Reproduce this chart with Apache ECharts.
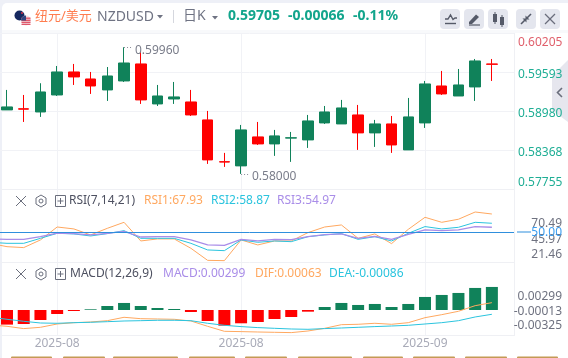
<!DOCTYPE html>
<html>
<head>
<meta charset="utf-8">
<style>
html,body{margin:0;padding:0;width:568px;height:358px;overflow:hidden;background:#eef0f7}
#card{position:absolute;left:2px;top:3px;width:566px;height:355px;background:#fff;border-radius:5px 0 0 0}
#strip{position:absolute;left:2px;top:30px;width:566px;height:3px;background:#f8f9fb}
#tab{position:absolute;left:552px;top:60px;width:16px;height:62px;background:#e6e6ee;clip-path:polygon(100% 0,0 16px,0 50px,100% 100%)}
#chart{position:absolute;left:-60px;top:0;width:628px;height:358px}
</style>
<script src="https://cdn.jsdelivr.net/npm/echarts@6/dist/echarts.min.js"></script>
</head>
<body>
<div id="card"></div><div id="strip"></div><div id="tab"></div>
<div id="chart"></div>
<script>
// one hidden day before the first visible candle, one blank slot after the last
const categories = ['2025-08','2025-08','2025-08','2025-08','2025-08','2025-08','2025-08','2025-08','2025-08','2025-08','2025-08','2025-08','2025-08','2025-08','2025-08','2025-08','2025-08','2025-08','2025-08','2025-08','2025-08','2025-08','2025-08','2025-08','2025-08','2025-08','2025-09','2025-09','2025-09','2025-09','2025-09','2025-09'];
const labelledDays = [4, 15, 26];
const blankCandle = ['-','-','-','-'];
// open, close, low, high
const candles = [blankCandle,
 [.58997,.59044,.58997,.59311],[.59015,.59009,.58808,.59232],[.58965,.59279,.58887,.59416],[.59232,.59593,.59216,.59687],
 [.59593,.59515,.59389,.59719],[.59483,.59373,.59248,.59593],[.59311,.5953,.59138,.59671],[.59452,.59734,.59436,.59981],
 [.59719,.59154,.59091,.59923],[.59091,.59216,.59059,.59389],[.59169,.59201,.59091,.59436],[.59122,.58918,.58902,.59311],
 [.5884,.58212,.58149,.58981],[.58184,.58178,.58102,.58322],[.58118,.58683,.57992,.58761],[.58573,.58463,.58447,.58808],
 [.58463,.58589,.58275,.58683],[.58554,.5856,.58181,.58651],[.58526,.58824,.584,.58918],[.58793,.58965,.58777,.59059],
 [.58777,.59028,.58777,.59154],[.58918,.58636,.58369,.59075],[.58636,.58777,.58416,.5884],[.58777,.58447,.58322,.58902],
 [.58369,.58887,.58369,.59185],[.58793,.59405,.58714,.59452],[.59373,.59248,.59232,.59609],[.59216,.59389,.59216,.5964],
 [.59358,.59766,.59138,.59797],[.59719,.59713,.59452,.59797], blankCandle];
const priceTicks = [0.57755,0.58368,0.58980,0.59593,0.60205];
const rsi1 = [39.2,35.9,35.0,42.5,55.2,53.3,47.4,53.9,59.8,41.5,43.5,43.5,34.3,22.5,22.2,42.5,37.6,41.5,41.5,49.7,55.2,57.2,44.1,48.4,38.9,52.9,64.7,59.8,62.8,69.9,67.93,'-'];
const rsi2 = [40.2,39.2,39.2,44.1,49,48.4,46.4,48.7,51.6,44.1,44.1,44.1,39.2,32.7,32,42.5,40.2,41.5,40.8,45.7,47.4,48.7,43.1,45.7,41.5,49,55.6,53.3,54.9,59.8,58.87,'-'];
const rsi3 = [43.5,43.1,43.1,45.7,49.3,48.7,47.4,49,51,45.4,45.7,45.7,42.5,37.6,37.2,43.1,41.5,43.1,42.8,45.7,47.7,48.4,44.1,46.1,43.1,48,52.3,51.6,52.3,55.6,54.97,'-'];
const macdBars = [-.0019,-.0019,-.00182,-.0013,-.00052,-.00013,.00009,.00052,.00091,.00052,.00026,.00013,-.00026,-.00143,-.00204,-.00173,-.00156,-.00117,-.00091,-.00022,.00039,.00091,.00065,.00078,.00039,.00078,.00169,.00195,.00221,.00286,.00299,'-'];
const dif = [-.00195,-.00212,-.00242,-.00225,-.00182,-.00165,-.00156,-.00139,-.00095,-.00113,-.00117,-.00121,-.00143,-.00212,-.00277,-.00281,-.00286,-.0029,-.00294,-.00273,-.00238,-.00191,-.00186,-.00173,-.00186,-.00165,-.001,-.00061,-.00017,.00056,.00095,'-'];
const dea = [-.00095,-.00121,-.00147,-.00169,-.00173,-.00165,-.0016,-.00152,-.00143,-.00139,-.00134,-.00134,-.00139,-.00173,-.00199,-.00216,-.00229,-.00238,-.00247,-.00251,-.00242,-.00234,-.00225,-.00216,-.00208,-.00199,-.00182,-.00165,-.00139,-.00091,-.00056,'-'];
const rsiTicks = [['70.49',223.5,'#6f7280'],['45.97',240,'#6f7280'],['21.46',254.5,'#6f7280'],['50.00',233,'#3a9df0']];
const macdTicks = [['0.00299',296.7],['-0.00013',312],['-0.00325',326]];

const UP='#10825a', DOWN='#ff0000', ORANGE='#ffa860', CYAN='#2bc4de', PURPLE='#a98de8', LINE='#f1f2f6';
const FONT='"Noto Sans","Noto Sans CJK SC",sans-serif';
const SHIFT=60; // the canvas starts left of the window so the plot can bleed off its left edge
const gridLeft=SHIFT-18.08, gridWidth=535.04;
const isMajor=i=>labelledDays.includes(i);

function xAxis(gridIndex, showLabel){
  return {type:'category',gridIndex,data:categories,boundaryGap:true,
    axisLine:{show:true,onZero:false,lineStyle:{color:'#eff0f4',width:1}},
    axisTick:{show:false},
    axisLabel:{show:showLabel,interval:(i)=>isMajor(i),color:'#a9abb8',fontSize:12,fontFamily:FONT,margin:3,hideOverlap:false},
    splitLine:{show:true,alignWithLabel:true,interval:(i)=>isMajor(i),lineStyle:{color:LINE,width:1}}};
}
function txt(x,y,text,fill,size){
  return {type:'text',z:20,silent:true,style:{x,y,text,fill,font:`${size}px ${FONT}`,align:'left',verticalAlign:'middle'}};
}
function ln(x1,y1,x2,y2,stroke,w){return {type:'line',z:20,silent:true,shape:{x1,y1,x2,y2},style:{stroke,lineWidth:w||1}};}
function controls(y){
  const c='#6a6e7c';
  return [ln(16,y-5,26,y+5,c),ln(26,y-5,16,y+5,c),
    {type:'polygon',z:20,silent:true,shape:{points:[[41,y-6],[46,y-3],[46,y+3],[41,y+6],[36,y+3],[36,y-3]]},style:{fill:'none',stroke:c,lineWidth:1}},
    {type:'circle',z:20,silent:true,shape:{cx:41,cy:y,r:2},style:{fill:'none',stroke:c,lineWidth:1}},
    {type:'rect',z:20,silent:true,shape:{x:55.5,y:y-5.5,width:10,height:11},style:{fill:'none',stroke:c,lineWidth:1}},
    ln(57.5,y,63.5,y,c),ln(60.5,y-3,60.5,y+3,c)];
}
const iconBox=x=>({type:'rect',z:20,silent:true,shape:{x,y:9,width:20,height:20,r:4},style:{fill:'#e4e6ee'}});
const G='#555a68';
const stripes=[[16.5,1.4],[18.6,1.4],[20.7,1.4],[22.8,1.2]];
const segments=[[11,52],[63,105],[113,178],[189,235],[245,287],[298,352],[363,403],[413,455],[465,507],[517,558]];

const graphic=[
  {type:'rect',z:10,silent:true,shape:{x:515,y:33,width:3,height:303},style:{fill:'#fff'}},
  ln(514.5,33,514.5,335,'#eff0f4'),
  ln(517,232,531,232,'#2f8fdd'),
  {type:'polyline',z:20,silent:true,shape:{points:[[562,88],[557.5,92.5],[562,97]]},style:{fill:'none',stroke:'#6a6e7c',lineWidth:1.6}},
  {type:'circle',z:20,silent:true,shape:{cx:19.5,cy:15.5,r:5},style:{fill:'#15285f'}},
  {type:'circle',z:20,silent:true,shape:{cx:22,cy:13,r:1},style:{fill:'#d8344a'}},
  {type:'circle',z:20,silent:true,shape:{cx:26,cy:20.5,r:5},style:{fill:'#f3dfe2'}},
  ...stripes.map(s=>({type:'rect',z:21,silent:true,shape:{x:21.5,y:s[0]+1,width:9,height:s[1]},style:{fill:'#e0566a'}})),
  {type:'sector',z:22,silent:true,shape:{cx:26,cy:20.5,r:5,startAngle:Math.PI,endAngle:Math.PI*1.5},style:{fill:'#33467f'}},
  txt(35,16,'纽元/美元','#ff7d4f',13),
  txt(97,17,'NZDUSD','#6f7383',14),
  {type:'polygon',z:20,silent:true,shape:{points:[[157,15],[163,15],[160,18.5]]},style:{fill:'#6f7383'}},
  ln(173.5,10,173.5,23,'#d5d7de'),
  txt(183,16,'日K','#6f7383',14),
  {type:'polygon',z:20,silent:true,shape:{points:[[212,16],[218,16],[215,19.5]]},style:{fill:'#6f7383'}},
  {type:'text',z:20,silent:true,style:{x:228,y:16,text:'0.59705',fill:'#12a58c',font:`bold 14px ${FONT}`,align:'left',verticalAlign:'middle'}},
  {type:'text',z:20,silent:true,style:{x:288,y:16,text:'-0.00066',fill:'#12a58c',font:`bold 14px ${FONT}`,align:'left',verticalAlign:'middle'}},
  {type:'text',z:20,silent:true,style:{x:353,y:16,text:'-0.11%',fill:'#12a58c',font:`bold 14px ${FONT}`,align:'left',verticalAlign:'middle'}},
  iconBox(440),iconBox(464),iconBox(488),iconBox(516),iconBox(540),
  {type:'polyline',z:21,silent:true,shape:{points:[[445,19],[448,19],[450.5,15],[453,19.5],[455,18],[457,18]]},style:{fill:'none',stroke:G,lineWidth:1.4}},
  ln(445,23.5,456,23.5,G,1.4),
  {type:'polygon',z:21,silent:true,shape:{points:[[469,22],[476,14.5],[479,17],[472,24],[469,24]]},style:{fill:G}},
  ln(469,25,480,25,G,1.2),
  {type:'rect',z:21,silent:true,shape:{x:493,y:14,width:4,height:8},style:{fill:G}},
  ln(495,12,495,24,G),
  {type:'rect',z:21,silent:true,shape:{x:500,y:17,width:4,height:8},style:{fill:G}},
  ln(502,15,502,27,G),
  ln(521,24,525,20,G,1.6),ln(531,14,527,18,G,1.6),
  {type:'polygon',z:21,silent:true,shape:{points:[[526.5,18.5],[526.5,22.5],[522.5,18.5]]},style:{fill:G}},
  {type:'polygon',z:21,silent:true,shape:{points:[[525.5,19.5],[525.5,15.5],[529.5,19.5]]},style:{fill:G}},
  ln(545,14,555,24,'#6a6e7c',1.2),ln(555,14,545,24,'#6a6e7c',1.2),
  ...controls(201),
  txt(69,201,'RSI(7,14,21)','#4d5060',12),
  txt(144,201,'RSI1:67.93',ORANGE,12),
  txt(211,201,'RSI2:58.87',CYAN,12),
  txt(277,201,'RSI3:54.97',PURPLE,12),
  ...rsiTicks.map(t=>({type:'text',z:20,silent:true,style:{x:562,y:t[1],text:t[0],fill:t[2],font:`12px ${FONT}`,align:'right',verticalAlign:'middle'}})),
  ...controls(274),
  txt(70,274,'MACD(12,26,9)','#4d5060',12),
  txt(163,274,'MACD:0.00299',PURPLE,12),
  txt(255,274,'DIF:0.00063',ORANGE,12),
  txt(329,274,'DEA:-0.00086',CYAN,12),
  ...macdTicks.map(t=>({type:'text',z:20,silent:true,style:{x:562,y:t[1],text:t[0],fill:'#6f7280',font:`12px ${FONT}`,align:'right',verticalAlign:'middle'}})),
  ...segments.map(s=>({type:'rect',z:20,silent:true,shape:{x:s[0],y:356.5,width:s[1]-s[0],height:2,r:[1,1,0,0]},style:{fill:'#c49a55'}}))
];

const lineSeries=(name,data,color,axis,w)=>({name,type:'line',data,xAxisIndex:axis,yAxisIndex:axis,symbol:'none',smooth:false,z:3,silent:true,lineStyle:{color,width:w||1},itemStyle:{color}});
const extremeLabel={show:true,position:'end',color:'#7a7d8a',fontSize:12,fontFamily:FONT,offset:[-3,3],formatter:p=>p.data.text||''};

const chart=echarts.init(document.getElementById('chart'),null,{renderer:'canvas',width:628,height:358});
chart.setOption({
  animation:false,
  textStyle:{fontFamily:FONT},
  grid:[
    {left:gridLeft,width:gridWidth,top:33,height:156},
    {left:gridLeft,width:gridWidth,top:190,height:72},
    {left:gridLeft,width:gridWidth,top:262,height:73}
  ],
  xAxis:[xAxis(0,false),xAxis(1,false),xAxis(2,true)],
  yAxis:[
    {type:'value',gridIndex:0,position:'right',min:0.57755,max:0.60205,scale:true,
      axisLine:{show:false},
      axisTick:{show:false,customValues:priceTicks},
      splitLine:{show:true,lineStyle:{color:LINE,width:1}},
      axisLabel:{customValues:priceTicks,margin:1,fontSize:12,fontFamily:FONT,
        formatter:v=>{
          const s=v.toFixed(5);
          if(v>0.6) return '{top|'+s+'}';
          if(v<0.578) return '{low|'+s+'}';
          return '{mid|'+s+'}';
        },
        rich:{
          top:{color:'#e0606c',fontSize:12,fontFamily:FONT,padding:[4,0,0,0]},
          mid:{color:'#1fae95',fontSize:12,fontFamily:FONT,padding:[5,0,0,0]},
          low:{color:'#1fae95',fontSize:12,fontFamily:FONT}
        },
        verticalAlignMaxLabel:'top',verticalAlignMinLabel:'bottom'}},
    {type:'value',gridIndex:1,position:'right',min:20.88,max:91.47,show:false,splitLine:{show:false}},
    {type:'value',gridIndex:2,position:'right',min:-0.00325,max:0.00623,show:false,splitLine:{show:false}}
  ],
  series:[
    {name:'K',type:'candlestick',data:candles,xAxisIndex:0,yAxisIndex:0,barWidth:11,z:3,silent:true,
      itemStyle:{color:UP,color0:DOWN,borderColor:UP,borderColor0:DOWN,borderWidth:1},
      markLine:{silent:true,symbol:'none',animation:false,
        lineStyle:{color:'#8a8d99',type:[1,2],width:1},
        label:extremeLabel,
        data:[
          [{coord:[8,0.59981],text:'0.59960'},{x:133+SHIFT,y:47.5,text:'0.59960'}],
          [{coord:[15,0.57992],text:'0.58000'},{x:250+SHIFT,y:174,text:'0.58000'}]
        ]}},
    lineSeries('RSI1',rsi1,ORANGE,1),
    lineSeries('RSI2',rsi2,CYAN,1),
    Object.assign(lineSeries('RSI3',rsi3,PURPLE,1,1.3),{
      markLine:{silent:true,symbol:'none',animation:false,label:{show:false},lineStyle:{color:'#2f8fdd',type:'solid',width:1},data:[{yAxis:50}]}}),
    {name:'MACD',type:'bar',data:macdBars,xAxisIndex:2,yAxisIndex:2,barWidth:12,z:2,silent:true,
      itemStyle:{color:p=>p.value>=0?UP:DOWN}},
    lineSeries('DIF',dif,ORANGE,2),
    lineSeries('DEA',dea,CYAN,2)
  ],
  graphic:{elements:[{type:'group',x:SHIFT,y:0,children:graphic}]}
});
</script>
</body>
</html>
